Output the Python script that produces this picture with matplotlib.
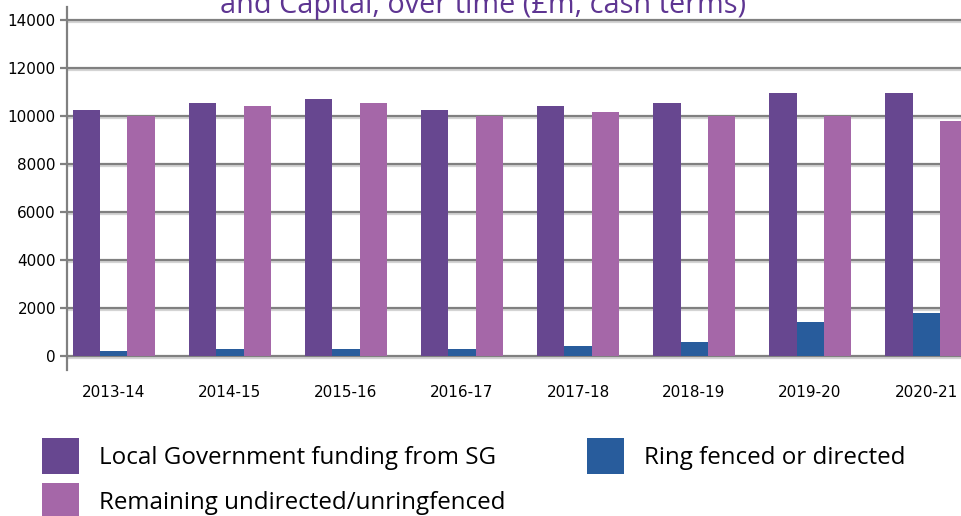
import matplotlib
matplotlib.use("Agg")
import matplotlib.pyplot as plt
import matplotlib.patheffects as pe
import numpy as np

# data (£m, cash terms)
years = ["2013-14", "2014-15", "2015-16", "2016-17", "2017-18", "2018-19", "2019-20", "2020-21"]
lg_funding = [10250, 10540, 10700, 10250, 10420, 10540, 10960, 10960]
ring_fenced = [200, 300, 300, 300, 420, 580, 1420, 1800]
remaining = [10000, 10420, 10540, 10000, 10170, 10000, 10000, 9790]

c_purple = "#674790"
c_blue = "#285c9c"
c_pink = "#a567a8"
grid_grey = "#808080"

fig = plt.figure(figsize=(9.62, 5.16), dpi=100)
ax = fig.add_axes([67 / 962, 1 - 370 / 516, 1 - 67 / 962, 363 / 516])

x = np.arange(len(years))
w = 0.233
ax.bar(x - w, lg_funding, w, color=c_purple, label="Local Government funding from SG")
ax.bar(x, ring_fenced, w, color=c_blue, label="Ring fenced or directed")
ax.bar(x + w, remaining, w, color=c_pink, label="Remaining undirected/unringfenced")

ax.set_xlim(-0.405, 7.31)
ax.set_ylim(-580, 14540)
ax.set_yticks(range(0, 14001, 2000))
ax.set_xticks(x)
ax.set_xticklabels(years)

ax.set_axisbelow(True)
ax.grid(axis="y", color=grid_grey, linewidth=1.6,
        path_effects=[pe.SimpleLineShadow(offset=(0, -1.5), shadow_color="#d4d4d4", alpha=1), pe.Normal()])
ax.grid(axis="x", visible=False)

for s in ["top", "right", "bottom"]:
    ax.spines[s].set_visible(False)
ax.spines["left"].set_color(grid_grey)
ax.spines["left"].set_linewidth(1.6)

ax.tick_params(axis="y", length=5, width=1.6, color=grid_grey, pad=3, labelsize=11)
ax.tick_params(axis="x", length=0, pad=11, labelsize=11)

# title is cut off at the top edge in the original
fig.text(483 / 962, 1 - 13 / 516, "and Capital, over time (£m, cash terms)",
         ha="center", va="baseline", color="#5e3592", fontsize=20.8, family="Open Sans")

handles, labels = ax.get_legend_handles_labels()
order = [0, 2, 1]
fig.legend([handles[i] for i in order], [labels[i] for i in order],
           loc="upper left", bbox_to_anchor=(42 / 962, 1 - 438 / 516),
           ncol=2, frameon=False, borderpad=0, borderaxespad=0,
           handlelength=1.55, handleheight=1.94, handletextpad=0.82,
           labelspacing=0.35, columnspacing=3.36,
           prop={"family": "Open Sans", "size": 17.4})

fig.savefig("out.png", dpi=100)
